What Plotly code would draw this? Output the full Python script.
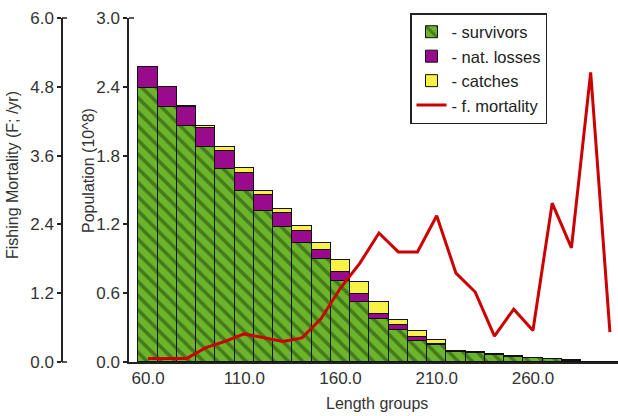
import plotly.graph_objects as go

# Length groups (class mid-lengths) and stock composition per group
length_groups = [60, 70, 80, 90, 100, 110, 120, 130, 140, 150, 160, 170, 180,
                 190, 200, 210, 220, 230, 240, 250, 260, 270, 280, 290, 300]

# Population components (10^8)
survivors = [2.390, 2.224, 2.054, 1.871, 1.682, 1.494, 1.319, 1.179, 1.039, 0.894,
             0.706, 0.525, 0.372, 0.276, 0.179, 0.144, 0.085, 0.075, 0.058, 0.042,
             0.031, 0.024, 0.012, 0.0, 0.0]
nat_losses = [0.184, 0.175, 0.172, 0.170, 0.154, 0.150, 0.137, 0.117, 0.105, 0.087,
              0.079, 0.071, 0.050, 0.044, 0.037, 0.015, 0.008, 0.007, 0.006, 0.004,
              0.003, 0.002, 0.001, 0.0, 0.0]
catches = [0.000, 0.003, 0.005, 0.020, 0.038, 0.045, 0.035, 0.035, 0.044, 0.058,
           0.102, 0.098, 0.101, 0.050, 0.053, 0.029, 0.007, 0.008, 0.006, 0.004,
           0.003, 0.002, 0.001, 0.0, 0.0]

# Fishing mortality (F; /yr) by length group
f_mortality = [0.06, 0.06, 0.06, 0.25, 0.36, 0.49, 0.42, 0.36, 0.42, 0.76,
               1.29, 1.72, 2.25, 1.92, 1.92, 2.55, 1.55, 1.22, 0.45, 0.92,
               0.55, 2.77, 1.99, 5.05, 0.52]

pop_ticks = [0.0, 0.6, 1.2, 1.8, 2.4, 3.0]
f_ticks = [0.0, 1.2, 2.4, 3.6, 4.8, 6.0]
length_ticks = [60, 110, 160, 210, 260]

FONT = "Liberation Sans, Arial, sans-serif"
TXT = "#333333"
AX = "#222222"
W, H = 618, 416
M_T, M_B = 18, 54
PH = H - M_T - M_B
TICK_SIZE = 17
TITLE_SIZE = 16

fig = go.Figure()

fig.add_trace(go.Bar(
    x=length_groups, y=survivors, name="- survivors", legendgroup="a",
    width=10,
    marker=dict(color="#6cb52a", line=dict(color="#111111", width=1),
                pattern=dict(shape="\\", fgcolor="#1a3f0e", bgcolor="#6cb52a",
                             size=10, solidity=0.35)),
))
fig.add_trace(go.Bar(
    x=length_groups, y=nat_losses, name="- nat. losses", legendgroup="b",
    width=10,
    marker=dict(color="#990a8c", line=dict(color="#111111", width=1)),
))
fig.add_trace(go.Bar(
    x=length_groups, y=catches, name="- catches", legendgroup="c",
    width=10,
    marker=dict(color="#f7f245", line=dict(color="#111111", width=1)),
))
fig.add_trace(go.Scatter(
    x=length_groups, y=f_mortality, name="- f. mortality", legendgroup="d",
    yaxis="y2", mode="lines",
    line=dict(color="#cc0000", width=3),
))

x0 = 129 / W
f_pos = 62 / W


def ytitle(text, xpx, ypx):
    return dict(text=text, textangle=-90,
                x=xpx / W, y=(H - M_B - ypx) / PH,
                xanchor="center", yanchor="middle",
                xref="paper", yref="paper", showarrow=False,
                font=dict(size=TITLE_SIZE, color=TXT))


fig.update_layout(
    width=W, height=H,
    margin=dict(l=0, r=0, t=M_T, b=M_B, autoexpand=False),
    paper_bgcolor="white", plot_bgcolor="white",
    barmode="stack", bargap=0,
    font=dict(family=FONT, size=16, color=TXT),
    showlegend=True,
    legend=dict(
        x=410 / W, y=1 + (M_T - 13) / PH,
        xanchor="left", yanchor="top",
        bordercolor="#222222", borderwidth=1.5, bgcolor="white",
        font=dict(family=FONT, size=16.5, color="#222222"),
        traceorder="normal", tracegroupgap=2,
    ),
    xaxis=dict(
        domain=[x0, 1], range=[50.1, 304.2],
        tickvals=length_ticks, tickformat=".1f",
        ticks="", showgrid=False, zeroline=False,
        showline=True, linecolor=AX, linewidth=1.5,
        tickfont=dict(size=TICK_SIZE, color=TXT),
    ),
    yaxis=dict(
        range=[0, 3], tickvals=pop_ticks, tickformat=".1f",
        ticks="outside", ticklen=4, tickcolor=AX, tickwidth=1.5,
        showgrid=False, zeroline=False,
        showline=True, linecolor=AX, linewidth=1.5,
        tickfont=dict(size=TICK_SIZE, color=TXT),
    ),
    yaxis2=dict(
        overlaying="y", anchor="free", position=f_pos, side="left",
        range=[0, 6], tickvals=f_ticks, tickformat=".1f",
        ticks="outside", ticklen=4, tickcolor=AX, tickwidth=1.5,
        showgrid=False, zeroline=False,
        showline=True, linecolor=AX, linewidth=1.5,
        tickfont=dict(size=TICK_SIZE, color=TXT),
    ),
    annotations=[
        ytitle("Fishing Mortality (F; /yr)", 12, 175),
        ytitle("Population (10^8)", 88, 171),
        dict(text="Length groups",
             x=377 / W, y=(H - M_B - 403) / PH,
             xanchor="center", yanchor="middle",
             xref="paper", yref="paper", showarrow=False,
             font=dict(size=TITLE_SIZE, color=TXT)),
    ],
    shapes=[
        # end serifs on the vertical axes
        dict(type="line", xref="paper", yref="paper",
             x0=f_pos, x1=f_pos + 5 / W, y0=1, y1=1,
             line=dict(color=AX, width=1.5)),
        dict(type="line", xref="paper", yref="paper",
             x0=f_pos, x1=f_pos + 5 / W, y0=0, y1=0,
             line=dict(color=AX, width=1.5)),
        dict(type="line", xref="paper", yref="paper",
             x0=x0, x1=x0 + 5 / W, y0=1, y1=1,
             line=dict(color=AX, width=1.5)),
    ],
)

fig.write_html("out.html")
